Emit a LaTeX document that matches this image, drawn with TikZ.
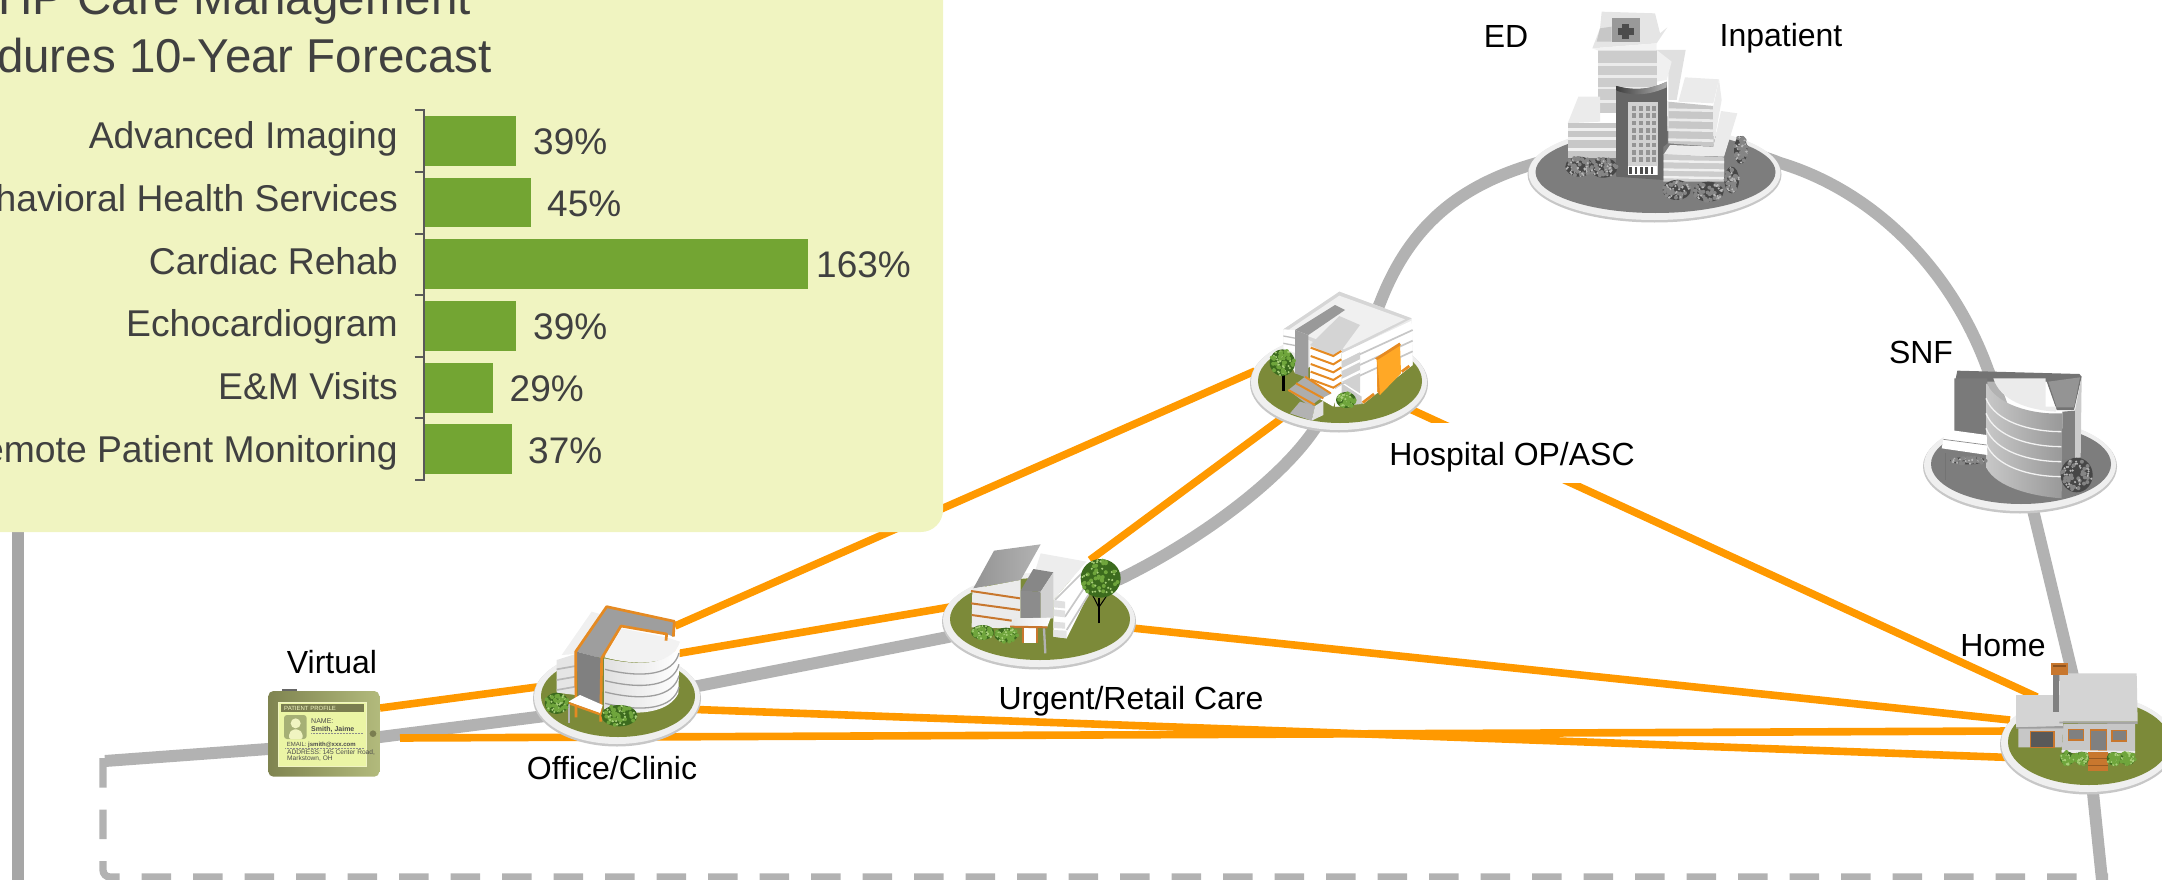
\documentclass[tikz,border=0pt]{standalone}
\usepackage{fontspec}
\setmainfont{Liberation Sans}
\usetikzlibrary{calc}
\definecolor{panelc}{HTML}{F0F4C1}
\definecolor{barc}{HTML}{73A533}
\definecolor{txtc}{HTML}{404040}
\definecolor{routec}{HTML}{B2B2B2}
\definecolor{orangec}{HTML}{FF9900}
\definecolor{olivec}{HTML}{7C8A39}
\definecolor{gplat}{HTML}{7D7D7D}
\definecolor{rimc}{HTML}{EFEFEF}
\definecolor{trimc}{HTML}{E58A22}
\definecolor{homeor}{HTML}{C8772E}
\definecolor{leafa}{HTML}{3C6B1E}
\definecolor{leafb}{HTML}{6FA53C}
\definecolor{leafc}{HTML}{A9D07A}
\definecolor{tabl}{HTML}{7F8450}
\definecolor{tabr}{HTML}{B2BA7C}
\definecolor{tabin}{HTML}{EBF5A5}
\definecolor{tabhd}{HTML}{7A7D50}
\definecolor{tabav}{HTML}{A6B075}
\tikzset{
  route/.style={draw=routec,line width=12pt,line join=round},
  routedash/.style={draw=routec,line width=7.3pt,dash pattern=on 29.5pt off 22pt,rounded corners=7pt},
  link/.style={draw=orangec,line width=7.6pt},
  lab/.style={inner sep=0pt,anchor=base,font=\fontsize{32}{36}\selectfont,text=black},
  rowlab/.style={inner sep=0pt,anchor=base east,font=\fontsize{37.3}{40}\selectfont,text=txtc},
  vallab/.style={inner sep=0pt,anchor=base west,font=\fontsize{37}{40}\selectfont,text=txtc},
  titlelab/.style={inner sep=0pt,anchor=base east,font=\fontsize{47.5}{50}\selectfont,text=txtc},
  tab/.style={inner sep=0pt,anchor=base west,text=#1},
  tab/.default={black!70}
}
\newcommand{\platform}[6]{% x y rx ry inner name
  \fill[black!22] (#1,#2+1.5) ellipse [x radius=#3+1,y radius=#4+1];
  \fill[rimc] (#1,#2) ellipse [x radius=#3,y radius=#4];
  \fill[#5] (#1+1,#2-1) ellipse [x radius=#3-6,y radius=#4-6];
  \coordinate (#6) at (#1,#2);
}
\newcommand{\leafy}[7]{% x y rx ry dark mid light
  \fill[#5] (#1,#2) ellipse [x radius=#3,y radius=#4];
  \foreach \k in {1,...,60}{
    \pgfmathsetmacro\ang{rnd*360}
    \pgfmathsetmacro\rr{sqrt(rnd)*0.95}
    \pgfmathsetmacro\cx{#1+#3*\rr*cos(\ang)}
    \pgfmathsetmacro\cy{#2+#4*\rr*sin(\ang)}
    \pgfmathtruncatemacro\sel{mod(\k,2)}
    \ifnum\sel=0 \fill[#6] (\cx,\cy) circle (6);\else\fill[#7] (\cx,\cy) circle (3.5);\fi
  }
}
\newcommand{\gbush}[4]{\leafy{#1}{#2}{#3}{#4}{leafa}{leafb}{leafc}}
\newcommand{\ggray}[4]{\leafy{#1}{#2}{#3}{#4}{black!72}{black!48}{black!28}}
\begin{document}
\begin{tikzpicture}[x=1pt,y=-1pt]
\useasboundingbox (0,0) rectangle (2162,880);
\clip (0,0) rectangle (2162,880);
\pgfmathsetseed{11}
% ---- named anchor points of the connectors
\coordinate (ra) at (105,761);
\coordinate (rb) at (268,749);
\coordinate (rc) at (380,737);
\coordinate (rd) at (545,716);
\coordinate (re) at (948,637);
\coordinate (rf) at (1120,579);
\coordinate (rh) at (1314,430);
\coordinate (rj) at (1380,303);
\coordinate (rn) at (1537,163);
\coordinate (ro) at (1780,163);
\coordinate (rs) at (1988,370);
\coordinate (rt) at (2033,510);
\coordinate (ru) at (2072,672);
\coordinate (rv) at (2093,793);
\coordinate (rw) at (2102,880);
\coordinate (da) at (103,758);
\coordinate (db) at (103,877);
\coordinate (dc) at (2108,877);
\coordinate (la) at (17.5,500);
\coordinate (lb) at (17.5,880);
% ---- grey care path
\draw[route,draw=black!35] (la) -- (lb);
\draw[routedash] (da) -- (db) -- (dc);
\draw[route] (ra) -- (rb) -- (rc) -- (rd) -- (re) -- (rf)
  .. controls (1200,540) and (1280,480) .. (rh)
  .. controls (1340,395) and (1362,345) .. (rj)
  .. controls (1410,225) and (1460,185) .. (rn)
  .. controls (1620,135) and (1710,135) .. (ro)
  .. controls (1870,190) and (1950,265) .. (rs)
  .. controls (2005,410) and (2020,460) .. (rt)
  -- (ru) .. controls (2082,715) and (2088,755) .. (rv) -- (rw);
% ---- orange links
\coordinate (tt) at (380,708);
\coordinate (oa) at (537,687);
\coordinate (tb) at (400,738);
\coordinate (ha) at (2010,731);
\coordinate (ob) at (696,709.5);
\coordinate (hb) at (2010,757.5);
\coordinate (oc) at (675,654);
\coordinate (ua) at (950,607);
\coordinate (od) at (675,626);
\coordinate (pa) at (1255,371);
\coordinate (ub) at (1090,560);
\coordinate (pb) at (1282,418);
\coordinate (uc) at (1132,628);
\coordinate (hc) at (2010,720);
\coordinate (pc) at (1410,409);
\coordinate (hd) at (2037,697);
\draw[link] (tt) -- (oa);
\draw[link] (tb) -- (ha);
\draw[link] (ob) -- (hb);
\draw[link] (oc) -- (ua);
\draw[link] (od) -- (pa);
\draw[link] (ub) -- (pb);
\draw[link] (uc) -- (hc);
\draw[link] (pc) -- (hd);
% ---- white plate behind the Hospital label
\node[fill=white,inner sep=0pt,minimum width=260pt,minimum height=60pt] (hospplate) at (1512,453) {};
% ---- platforms
\platform{1339}{382}{88}{48}{olivec}{hospp}
\platform{1039}{620}{96}{47}{olivec}{urgp}
\platform{617}{697}{83}{47}{olivec}{offp}
\platform{2088}{743}{87}{49}{olivec}{homep}
\platform{1654.5}{173}{126}{47}{gplat}{inpp}
\platform{2020}{465}{96}{46}{gplat}{snfp}
% ---- Hospital OP/ASC building
\begin{scope}[shift={(1220,250)},scale=1/3]
\fill[black!8] (190,238)--(358,125)--(575,205)--(578,345)--(430,460)--(365,410)--(365,310)--(225,370)--(190,295)--cycle;
\fill[black!16] (190,238)--(358,125)--(575,205)--(365,312)--cycle;
\fill[black!6] (208,238)--(358,137)--(555,208)--(372,298)--cycle;
\fill[white] (365,310)--(575,212)--(578,345)--(430,462)--(365,410)--cycle;
\foreach \d in {28,60,92}{\draw[black!22,line width=1.7] (365,310+\d)--(578,212+\d);}
\fill[black!18] (365,332)--(420,305)--(420,430)--(365,395)--cycle;
\foreach \d in {0,30,62}{\fill[white] (365,325+\d)--(420,298+\d)--(420,306+\d)--(365,333+\d)--cycle;}
\fill[white] (190,238)--(228,240)--(228,310)--(190,295)--cycle;
\foreach \d in {20,42}{\draw[black!25,line width=1.3] (190,238+\d)--(228,245+\d);}
\fill[black!40] (225,240)--(345,165)--(375,180)--(265,255)--cycle;
\fill[black!38] (225,240)--(265,255)--(265,385)--(225,370)--cycle;
\fill[black!17] (270,285)--(358,198)--(420,225)--(365,300)--(340,320)--cycle;
\fill[white] (270,290)--(340,318)--(365,300)--(365,400)--(340,470)--(270,430)--cycle;
\foreach \d in {0,25,49,72,95}{\draw[trimc,line width=2] (272,293+\d)--(340,318+\d)--(364,303+\d);}
\fill[black!20] (345,415)--(365,400)--(425,440)--(425,462)--(345,470)--cycle;
\fill[white] (345,418)--(365,405)--(365,470)--(345,470)--cycle;
\fill[orangec!85!white] (470,325)--(540,282)--(543,370)--(480,435)--(472,425)--cycle;
\fill[trimc] (465,325)--(538,278)--(543,285)--(472,330)--cycle;
\fill[trimc] (472,330)--(480,435)--(472,425)--cycle;
\draw[trimc,line width=2.7] (428,458)--(462,432);
\draw[trimc,line width=2.7] (545,365)--(568,348);
\fill[black!32] (205,420)--(255,380)--(335,430)--(295,450)--(270,470)--cycle;
\draw[trimc,line width=2] (205,420)--(285,465);
\draw[trimc,line width=2] (228,400)--(310,445);
\draw[trimc,line width=2] (255,380)--(332,430);
\fill[black!30] (210,490)--(240,455)--(285,468)--(275,512)--cycle;
\fill[black!12] (285,468)--(310,452)--(310,495)--(275,512)--cycle;
\gbush{378}{450}{30}{24}
\draw[black,line width=2.3] (190,422)--(190,350);
\draw[black,line width=1] (190,380)--(172,350) (190,375)--(208,345);
\leafy{187}{338}{38}{40}{leafa}{leafb}{leafc}
\end{scope}
% ---- Urgent/Retail Care building
\begin{scope}[shift={(920,520)},scale=1/3]
\fill[black!7] (362,100)--(500,125)--(400,240)--(330,200)--cycle;
\fill[white] (500,125)--(507,220)--(440,355)--(400,350)--(400,240)--cycle;
\draw[black!22,line width=1.7] (405,240)--(500,145) (435,290)--(505,185) (440,330)--(505,225);
\fill[black!12] (400,240)--(435,245)--(435,265)--(400,262)--cycle;
\fill[black!12] (400,268)--(435,272)--(435,292)--(400,288)--cycle;
\fill[black!12] (400,305)--(435,308)--(435,326)--(400,324)--cycle;
\fill[black!10] (400,330)--(440,332)--(440,355)--(400,350)--cycle;
\shade[left color=black!42,right color=black!30] (222,92)--(362,73)--(302,180)--(160,205)--cycle;
\fill[black!8] (157,207)--(302,180)--(302,300)--(270,325)--(155,322)--cycle;
\draw[homeor,line width=2] (153,213)--(300,235);
\draw[homeor,line width=2] (153,250)--(300,270);
\draw[homeor,line width=2] (155,285)--(275,302);
\fill[black!47] (340,147)--(400,157)--(362,215)--(302,212)--cycle;
\fill[black!45] (302,212)--(362,215)--(362,298)--(302,298)--cycle;
\fill[black!18] (362,215)--(400,157)--(400,295)--(362,298)--cycle;
\shade[left color=black!10,right color=white] (285,295)--(392,293)--(382,320)--(270,318)--cycle;
\fill[white] (310,322)--(352,322)--(352,368)--(310,368)--cycle;
\draw[homeor,line width=2] (270,320)--(382,322);
\draw[homeor,line width=2] (310,322)--(310,368) (350,322)--(350,368);
\draw[black!30,line width=2.3] (372,325)--(376,400);
\gbush{188}{337}{35}{22}
\gbush{258}{345}{35}{22}
\draw[black,line width=2.3] (538,310)--(538,235);
\draw[black,line width=1] (538,265)--(515,220) (538,260)--(565,220);
\leafy{542}{175}{60}{58}{leafa}{leafb}{leafc}
\end{scope}
% ---- Office/Clinic building
\begin{scope}[shift={(510,580)},scale=1/3]
\fill[black!10] (140,240)--(197,222)--(197,345)--(140,338)--cycle;
\foreach \d in {30,62,92}{\draw[black!28,line width=1.7] (140,238+\d)--(197,228+\d);}
\fill[black!6] (155,225)--(245,95)--(270,102)--(197,222)--cycle;
\shade[left color=black!12,right color=white] (283,235) .. controls (400,262) and (490,250) .. (510,185) -- (505,340) .. controls (480,392) and (400,412) .. (283,388) -- cycle;
\fill[black!5] (283,232)--(335,145)--(470,172)--(510,185) .. controls (490,250) and (400,262) .. (283,232);
\foreach \d in {32,66,100,134}{\draw[black!38,line width=1.3] (285,236+\d) .. controls (400,264+\d) and (490,252+\d) .. (507,187+\d);}
\fill[black!38] (290,82)--(495,125)--(490,170)--(470,162)--(335,135)--(275,235)--(200,215)--cycle;
\fill[black!50] (200,215)--(275,235)--(275,385)--(205,385)--cycle;
\draw[trimc,line width=2.7,line join=round] (198,412)--(197,215)--(290,80)--(493,124)--(490,170);
\draw[trimc,line width=2.7,line join=round] (272,425)--(275,235)--(333,138)--(470,162)--(468,182);
\fill[white] (175,365)--(210,345)--(278,375)--(270,400)--cycle;
\draw[trimc,line width=2.3] (172,368)--(268,402);
\draw[black!30,line width=1.7] (178,372)--(178,430);
\gbush{140}{370}{36}{32}
\gbush{328}{407}{54}{32}
\end{scope}
% ---- Home
\begin{scope}[shift={(1960,640)},scale=1/3]
\fill[black!22] (175,262)--(310,262)--(305,322)--(175,322)--cycle;
\fill[black!22] (310,252)--(525,252)--(525,335)--(305,335)--cycle;
\fill[black!17] (168,165)--(300,165)--(310,262)--(168,262)--cycle;
\fill[black!38] (168,262)--(310,258)--(310,265)--(168,266)--cycle;
\fill[black!50] (278,100)--(298,100)--(298,215)--(278,215)--cycle;
\fill[black!50] (298,105)--(318,105)--(318,122)--(298,122)--cycle;
\fill[black!17] (298,100)--(530,100)--(533,245)--(298,245)--cycle;
\fill[black!35] (298,245)--(533,245)--(533,252)--(298,250)--cycle;
\fill[homeor] (273,68)--(323,68)--(323,105)--(273,105)--cycle;
\fill[black!30!homeor] (278,75)--(318,75)--(318,80)--(278,80)--cycle;
\filldraw[draw=homeor,fill=black!65,line width=1.2] (211,274) rectangle (282,322);
\filldraw[draw=homeor,fill=black!50,line width=1.2] (326,269) rectangle (370,300);
\filldraw[draw=homeor,fill=black!50,line width=1.2] (456,271) rectangle (500,303);
\filldraw[draw=homeor,fill=black!50,line width=1.2] (391,270) rectangle (440,332);
\fill[black!8] (305,330)--(525,333)--(525,340)--(305,338)--cycle;
\fill[homeor] (385,336) rectangle (445,394);
\draw[black!25!homeor,line width=1] (385,355)--(445,355) (385,375)--(445,375);
\gbush{322}{355}{22}{20}
\gbush{365}{355}{22}{20}
\gbush{462}{356}{22}{20}
\gbush{503}{356}{22}{20}
\end{scope}
% ---- Inpatient
\begin{scope}[shift={(1500,0)},scale=1/3]
\fill[black!12] (470,150)--(557,150)--(530,300)--(505,300)--(505,220)--(470,240)--cycle;
\fill[black!6] (470,150)--(515,185)--(500,240)--(470,245)--cycle;
\fill[black!20] (295,150)--(470,150)--(470,340)--(295,340)--cycle;
\foreach \d in {190,225,260,300}{\fill[black!8] (295,\d)--(470,\d)--(470,\d+8)--(295,\d+8)--cycle;}
\fill[black!10] (277,145)--(300,85)--(305,35)--(465,40)--(480,100)--(502,82)--(470,130)--cycle;
\fill[black!22] (300,85)--(335,80)--(335,125)--(290,125)--cycle;
\fill[black!40] (336,55) rectangle (420,125);
\fill[black!70] (367,72) rectangle (388,117);
\fill[black!70] (355,84) rectangle (402,105);
\fill[black!5] (277,145)--(470,130)--(470,152)--(295,152)--(277,145)--cycle;
\fill[black!8] (235,290)--(300,290)--(300,365)--(203,370)--cycle;
\fill[black!22] (203,370)--(348,370)--(348,475)--(203,475)--cycle;
\foreach \d in {385,412,445}{\fill[black!6] (203,\d)--(348,\d)--(348,\d+8)--(203,\d+8)--cycle;}
\fill[black!8] (490,465)--(510,435)--(640,440)--(663,333)--(712,340)--(672,470)--cycle;
\fill[black!20] (490,462)--(672,472)--(672,545)--(490,545)--cycle;
\foreach \d in {480,505,528}{\fill[black!6] (490,\d)--(672,\d+3)--(672,\d+10)--(490,\d+7)--cycle;}
\fill[black!8] (555,232)--(657,238)--(640,310)--(535,305)--cycle;
\fill[black!22] (505,305)--(640,318)--(640,440)--(505,430)--cycle;
\fill[black!8] (640,318)--(657,238)--(665,300)--(640,440)--cycle;
\foreach \d in {325,355,385,415}{\fill[black!8] (505,\d)--(640,\d+3)--(640,\d+11)--(505,\d+8)--cycle;}
\fill[black!60] (348,258) .. controls (400,272) and (450,270) .. (500,245) -- (503,430) -- (490,440) -- (490,540) -- (348,530) -- cycle;
\shade[left color=black!75,right color=black!30] (350,258) .. controls (400,272) and (450,270) .. (500,245) -- (500,262) .. controls (450,285) and (400,290) .. (350,272) -- cycle;
\fill[black!18] (383,305) rectangle (473,525);
\foreach \yy in {318,340,362,384,406,428,450,472}{\foreach \xx in {397,417,437,456}{\fill[black!42] (\xx,\yy) rectangle (\xx+12,\yy+14);}}
\fill[white] (385,497) rectangle (471,525);
\foreach \xx in {388,404,420,436,452}{\fill[black!70] (\xx,500) rectangle (\xx+8,522);}
\ggray{238}{500}{42}{30}
\ggray{310}{503}{42}{30}
\ggray{530}{570}{42}{30}
\ggray{625}{575}{46}{30}
\ggray{695}{540}{22}{40}
\ggray{722}{450}{20}{42}
\end{scope}
% ---- SNF
\begin{scope}[shift={(1900,350)},scale=1/3]
\fill[black!55] (172,62)--(538,72)--(545,80)--(522,180)--(470,180)--(440,95)--(165,95)--cycle;
\fill[black!52] (163,85)--(262,85)--(262,262)--(163,252)--cycle;
\fill[black!42] (445,95)--(540,82)--(522,172)--(470,172)--cycle;
\fill[black!50] (487,185)--(525,182)--(525,325)--(487,330)--cycle;
\fill[black!20] (525,180)--(545,80)--(542,322)--(525,325)--cycle;
\shade[left color=black!22,right color=black!40] (260,100) .. controls (285,160) and (390,195) .. (487,190) -- (485,445) .. controls (390,438) and (290,410) .. (260,355) -- cycle;
\fill[black!8] (280,85)--(437,85)--(437,170)--(468,170)--(468,185) .. controls (380,180) and (300,150) .. (280,85);
\foreach \d in {65,110,155,200}{\draw[black!5,line width=1.3] (258,80+\d) .. controls (285,150+\d) and (390,180+\d) .. (484,180+\d);}
\fill[white] (135,238)--(260,255)--(262,315)--(125,295)--(130,268)--cycle;
\draw[black!45,line width=.7] (130,268)--(260,285);
\draw[black!55,line width=.7] (137,310)--(137,390);
\ggray{205}{332}{55}{11}
\ggray{530}{375}{48}{52}
\end{scope}
% ---- Tablet
\begin{scope}[shift={(240,670)},scale=1/3]
\fill[black!60] (125,56) rectangle (170,66);
\shade[left color=tabl,right color=tabr,rounded corners=5pt] (85,63) rectangle (418,320);
\fill[tabin,draw=panelc,line width=1] (115,96) rectangle (378,290);
\fill[tabhd] (122,102) rectangle (373,126);
\fill[tabav,rounded corners=3pt] (132,135) rectangle (200,207);
\fill[panelc] (167,160) circle (15);
\fill[panelc,rounded corners=2pt] (147,207) -- (147,190) -- (158,178) -- (176,178) -- (188,190) -- (188,207) -- cycle;
\fill[tabhd] (399,191) circle (10);
\draw[black!45,densely dotted,line width=.5] (213,189)--(370,189) (135,235)--(370,235);
\node[tab=panelc,font=\fontsize{6}{7}\selectfont] (tabhead) at (132,120) {PATIENT PROFILE};
\node[tab,font=\fontsize{7}{8}\selectfont] (tabname) at (213,160) {NAME:};
\node[tab,font=\fontsize{7}{8}\bfseries\selectfont] (tabsmith) at (213,184) {Smith, Jaime};
\node[tab,font=\fontsize{6}{7}\selectfont] (tabemail) at (140,228) {EMAIL:};
\node[tab,font=\fontsize{6}{7}\bfseries\selectfont] (tabmail) at (204,228) {jsmith@xxx.com};
\node[tab,font=\fontsize{6.6}{7}\selectfont] (tabaddr) at (141,252) {ADDRESS: 145 Center Road,};
\node[tab,font=\fontsize{6.6}{7}\selectfont] (tabcity) at (141,272) {Markstown, OH};
\end{scope}
% ---- location labels
\node[lab] (vlab) at (332,673) {Virtual};
\node[lab] (olab) at (612,779) {Office/Clinic};
\node[lab] (ulab) at (1131,709) {Urgent/Retail Care};
\node[lab] (hlab) at (1512,465) {Hospital OP/ASC};
\node[lab] (edlab) at (1506,47.5) {ED};
\node[lab] (ilab) at (1781,46.5) {Inpatient};
\node[lab] (slab) at (1921,363) {SNF};
\node[lab] (homelab) at (2003,656) {Home};
% ---- chart panel
\fill[panelc,rounded corners=22pt] (-60,-60) rectangle (943,532);
\node[titlelab] (t1) at (471,15) {IHP Care Management};
\node[titlelab] (t2) at (492,72.5) {Procedures 10-Year Forecast};
\draw[black!65,line width=2pt] (414.5,110)--(424,110)--(424,479.7)--(414.5,479.7);
\foreach \ty in {171.5,233.5,294.8,356.7,418.4}{\draw[black!65,line width=2pt] (414.5,\ty)--(424,\ty);}
\foreach \nm/\lb/\lbase/\bt/\bb/\br/\vx/\vbase/\val in {
 a/{Advanced Imaging}/149/116.4/166/516/533/154.6/39\%,
 b/{Behavioral Health Services}/211.5/178/227.3/531/547/216/45\%,
 c/{Cardiac Rehab}/274.5/239/288.6/808/816/277.5/163\%,
 d/{Echocardiogram}/336.5/301/350.6/516/533/339.5/39\%,
 e/{E\&M Visits}/399.5/363/412.5/493/509.5/401.5/29\%,
 f/{Remote Patient Monitoring}/462/424/474/512/528/463.5/37\%}{
  \node[rowlab] (row\nm) at (398,\lbase) {\lb};
  \fill[barc] (425,\bt) rectangle (\br,\bb);
  \node[vallab] (val\nm) at (\vx,\vbase) {\val};
}
\end{tikzpicture}
\end{document}
